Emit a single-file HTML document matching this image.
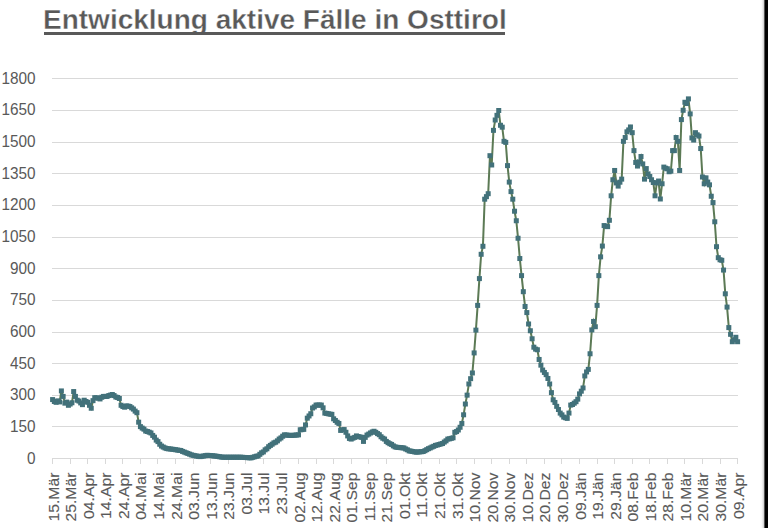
<!DOCTYPE html>
<html><head><meta charset="utf-8"><style>
html,body{margin:0;padding:0;background:#fff;}
body{width:768px;height:528px;overflow:hidden;position:relative;}
svg{position:absolute;left:0;top:0;}
.t{position:absolute;left:43px;top:3.7px;font:bold 28px "Liberation Sans",sans-serif;color:#595959;-webkit-text-stroke:0.35px #fff;white-space:nowrap;}
.ul{position:absolute;left:43.5px;top:32.3px;width:461.5px;height:2.4px;background:#595959;}
.border{position:absolute;left:760px;top:0;width:8px;height:528px;background:linear-gradient(to right,#fff 0px,#f6f6f6 2px,#d8d8d8 3.5px,#555 4.5px,#000 5.2px,#000 8px);}
</style></head><body>
<svg width="768" height="528" viewBox="0 0 768 528">
<g stroke="#d9d9d9" stroke-width="1"><line x1="52" y1="426.5" x2="738" y2="426.5"/><line x1="52" y1="395.5" x2="738" y2="395.5"/><line x1="52" y1="363.5" x2="738" y2="363.5"/><line x1="52" y1="332.5" x2="738" y2="332.5"/><line x1="52" y1="300.5" x2="738" y2="300.5"/><line x1="52" y1="268.5" x2="738" y2="268.5"/><line x1="52" y1="237.5" x2="738" y2="237.5"/><line x1="52" y1="205.5" x2="738" y2="205.5"/><line x1="52" y1="173.5" x2="738" y2="173.5"/><line x1="52" y1="142.5" x2="738" y2="142.5"/><line x1="52" y1="110.5" x2="738" y2="110.5"/><line x1="52" y1="78.5" x2="738" y2="78.5"/></g>
<g stroke="#d9d9d9" stroke-width="1"><line x1="52" y1="458.5" x2="738" y2="458.5"/><line x1="52.5" y1="458" x2="52.5" y2="464"/><line x1="70.5" y1="458" x2="70.5" y2="464"/><line x1="87.5" y1="458" x2="87.5" y2="464"/><line x1="105.5" y1="458" x2="105.5" y2="464"/><line x1="122.5" y1="458" x2="122.5" y2="464"/><line x1="140.5" y1="458" x2="140.5" y2="464"/><line x1="157.5" y1="458" x2="157.5" y2="464"/><line x1="175.5" y1="458" x2="175.5" y2="464"/><line x1="193.5" y1="458" x2="193.5" y2="464"/><line x1="210.5" y1="458" x2="210.5" y2="464"/><line x1="228.5" y1="458" x2="228.5" y2="464"/><line x1="245.5" y1="458" x2="245.5" y2="464"/><line x1="263.5" y1="458" x2="263.5" y2="464"/><line x1="280.5" y1="458" x2="280.5" y2="464"/><line x1="298.5" y1="458" x2="298.5" y2="464"/><line x1="316.5" y1="458" x2="316.5" y2="464"/><line x1="333.5" y1="458" x2="333.5" y2="464"/><line x1="351.5" y1="458" x2="351.5" y2="464"/><line x1="368.5" y1="458" x2="368.5" y2="464"/><line x1="386.5" y1="458" x2="386.5" y2="464"/><line x1="403.5" y1="458" x2="403.5" y2="464"/><line x1="421.5" y1="458" x2="421.5" y2="464"/><line x1="439.5" y1="458" x2="439.5" y2="464"/><line x1="456.5" y1="458" x2="456.5" y2="464"/><line x1="474.5" y1="458" x2="474.5" y2="464"/><line x1="491.5" y1="458" x2="491.5" y2="464"/><line x1="509.5" y1="458" x2="509.5" y2="464"/><line x1="526.5" y1="458" x2="526.5" y2="464"/><line x1="544.5" y1="458" x2="544.5" y2="464"/><line x1="561.5" y1="458" x2="561.5" y2="464"/><line x1="579.5" y1="458" x2="579.5" y2="464"/><line x1="597.5" y1="458" x2="597.5" y2="464"/><line x1="614.5" y1="458" x2="614.5" y2="464"/><line x1="632.5" y1="458" x2="632.5" y2="464"/><line x1="649.5" y1="458" x2="649.5" y2="464"/><line x1="667.5" y1="458" x2="667.5" y2="464"/><line x1="684.5" y1="458" x2="684.5" y2="464"/><line x1="702.5" y1="458" x2="702.5" y2="464"/><line x1="720.5" y1="458" x2="720.5" y2="464"/><line x1="737.5" y1="458" x2="737.5" y2="464"/></g>
<g font-family="Liberation Sans" font-size="16.5" fill="#595959" text-anchor="end"><text transform="translate(35.5,463.70) scale(0.93,1)">0</text><text transform="translate(35.5,432.02) scale(0.93,1)">150</text><text transform="translate(35.5,400.35) scale(0.93,1)">300</text><text transform="translate(35.5,368.68) scale(0.93,1)">450</text><text transform="translate(35.5,337.00) scale(0.93,1)">600</text><text transform="translate(35.5,305.32) scale(0.93,1)">750</text><text transform="translate(35.5,273.65) scale(0.93,1)">900</text><text transform="translate(35.5,241.97) scale(0.93,1)">1050</text><text transform="translate(35.5,210.30) scale(0.93,1)">1200</text><text transform="translate(35.5,178.62) scale(0.93,1)">1350</text><text transform="translate(35.5,146.95) scale(0.93,1)">1500</text><text transform="translate(35.5,115.27) scale(0.93,1)">1650</text><text transform="translate(35.5,83.60) scale(0.93,1)">1800</text></g>
<g font-family="Liberation Sans" font-size="14.3" fill="#595959" stroke="#595959" stroke-width="0.12" text-anchor="end"><text transform="translate(58.60,472.6) rotate(-90) scale(1.10,1)">15.Mär</text><text transform="translate(76.16,472.6) rotate(-90) scale(1.10,1)">25.Mär</text><text transform="translate(93.73,472.6) rotate(-90) scale(1.10,1)">04.Apr</text><text transform="translate(111.29,472.6) rotate(-90) scale(1.10,1)">14.Apr</text><text transform="translate(128.86,472.6) rotate(-90) scale(1.10,1)">24.Apr</text><text transform="translate(146.42,472.6) rotate(-90) scale(1.10,1)">04.Mai</text><text transform="translate(163.98,472.6) rotate(-90) scale(1.10,1)">14.Mai</text><text transform="translate(181.55,472.6) rotate(-90) scale(1.10,1)">24.Mai</text><text transform="translate(199.11,472.6) rotate(-90) scale(1.10,1)">03.Jun</text><text transform="translate(216.68,472.6) rotate(-90) scale(1.10,1)">13.Jun</text><text transform="translate(234.24,472.6) rotate(-90) scale(1.10,1)">23.Jun</text><text transform="translate(251.81,472.6) rotate(-90) scale(1.10,1)">03.Jul</text><text transform="translate(269.37,472.6) rotate(-90) scale(1.10,1)">13.Jul</text><text transform="translate(286.93,472.6) rotate(-90) scale(1.10,1)">23.Jul</text><text transform="translate(304.50,472.6) rotate(-90) scale(1.10,1)">02.Aug</text><text transform="translate(322.06,472.6) rotate(-90) scale(1.10,1)">12.Aug</text><text transform="translate(339.63,472.6) rotate(-90) scale(1.10,1)">22.Aug</text><text transform="translate(357.19,472.6) rotate(-90) scale(1.10,1)">01.Sep</text><text transform="translate(374.75,472.6) rotate(-90) scale(1.10,1)">11.Sep</text><text transform="translate(392.32,472.6) rotate(-90) scale(1.10,1)">21.Sep</text><text transform="translate(409.88,472.6) rotate(-90) scale(1.10,1)">01.Okt</text><text transform="translate(427.45,472.6) rotate(-90) scale(1.10,1)">11.Okt</text><text transform="translate(445.01,472.6) rotate(-90) scale(1.10,1)">21.Okt</text><text transform="translate(462.57,472.6) rotate(-90) scale(1.10,1)">31.Okt</text><text transform="translate(480.14,472.6) rotate(-90) scale(1.10,1)">10.Nov</text><text transform="translate(497.70,472.6) rotate(-90) scale(1.10,1)">20.Nov</text><text transform="translate(515.27,472.6) rotate(-90) scale(1.10,1)">30.Nov</text><text transform="translate(532.83,472.6) rotate(-90) scale(1.10,1)">10.Dez</text><text transform="translate(550.39,472.6) rotate(-90) scale(1.10,1)">20.Dez</text><text transform="translate(567.96,472.6) rotate(-90) scale(1.10,1)">30.Dez</text><text transform="translate(585.52,472.6) rotate(-90) scale(1.10,1)">09.Jän</text><text transform="translate(603.09,472.6) rotate(-90) scale(1.10,1)">19.Jän</text><text transform="translate(620.65,472.6) rotate(-90) scale(1.10,1)">29.Jän</text><text transform="translate(638.22,472.6) rotate(-90) scale(1.10,1)">08.Feb</text><text transform="translate(655.78,472.6) rotate(-90) scale(1.10,1)">18.Feb</text><text transform="translate(673.34,472.6) rotate(-90) scale(1.10,1)">28.Feb</text><text transform="translate(690.91,472.6) rotate(-90) scale(1.10,1)">10.Mär</text><text transform="translate(708.47,472.6) rotate(-90) scale(1.10,1)">20.Mär</text><text transform="translate(726.04,472.6) rotate(-90) scale(1.10,1)">30.Mär</text><text transform="translate(743.60,472.6) rotate(-90) scale(1.10,1)">09.Apr</text></g>
<path d="M52.60,399.58 L54.36,401.49 L56.11,402.33 L57.87,400.85 L59.63,401.91 L61.38,390.93 L63.14,396.42 L64.89,403.17 L66.65,402.12 L68.41,405.29 L70.16,404.02 L71.92,402.75 L73.68,391.56 L75.43,396.42 L77.19,400.22 L78.95,401.06 L80.70,402.91 L82.46,404.65 L84.22,400.22 L85.97,401.49 L87.73,402.33 L89.48,405.29 L91.24,408.24 L93.00,400.64 L94.75,397.68 L96.51,397.90 L98.27,398.11 L100.02,398.95 L101.78,397.26 L103.54,396.42 L105.29,396.42 L107.05,396.42 L108.81,395.57 L110.56,395.11 L112.32,394.52 L114.07,395.57 L115.83,397.05 L117.59,397.47 L119.34,398.46 L121.10,405.29 L122.86,406.52 L124.61,407.19 L126.37,405.92 L128.13,406.10 L129.88,406.55 L131.64,407.82 L133.39,409.09 L135.15,411.10 L136.91,412.68 L138.66,422.18 L140.42,426.61 L142.18,428.08 L143.93,429.15 L145.69,431.05 L147.45,431.50 L149.20,432.17 L150.96,432.95 L152.72,435.42 L154.47,437.17 L156.23,440.10 L157.98,441.61 L159.74,444.26 L161.50,446.04 L163.25,447.06 L165.01,447.95 L166.77,448.58 L168.52,448.81 L170.28,448.98 L172.04,449.21 L173.79,449.43 L175.55,449.72 L177.31,450.02 L179.06,450.32 L180.82,450.48 L182.57,451.43 L184.33,452.09 L186.09,452.80 L187.84,453.44 L189.60,454.16 L191.36,454.87 L193.11,455.33 L194.87,455.73 L196.63,456.03 L198.38,456.33 L200.14,456.60 L201.89,456.28 L203.65,455.98 L205.41,455.69 L207.16,455.33 L208.92,455.45 L210.68,455.60 L212.43,455.75 L214.19,455.97 L215.95,456.13 L217.70,456.42 L219.46,456.72 L221.22,457.02 L222.97,457.23 L224.73,457.23 L226.48,457.23 L228.24,457.23 L230.00,457.23 L231.75,457.23 L233.51,457.23 L235.27,457.23 L237.02,457.23 L238.78,457.23 L240.54,457.23 L242.29,457.31 L244.05,457.43 L245.81,457.54 L247.56,457.65 L249.32,457.76 L251.07,457.87 L252.83,457.31 L254.59,456.78 L256.34,456.24 L258.10,455.97 L259.86,454.31 L261.61,452.80 L263.37,451.92 L265.13,449.84 L266.88,448.80 L268.64,446.72 L270.39,445.41 L272.15,444.19 L273.91,442.87 L275.66,442.18 L277.42,440.84 L279.18,439.07 L280.93,437.92 L282.69,436.22 L284.45,434.85 L286.20,435.04 L287.96,435.20 L289.72,435.36 L291.47,435.48 L293.23,435.29 L294.98,435.15 L296.74,435.00 L298.50,434.85 L300.25,429.78 L302.01,429.63 L303.77,429.36 L305.52,424.92 L307.28,418.17 L309.04,415.97 L310.79,413.73 L312.55,408.03 L314.31,406.90 L316.06,405.07 L317.82,405.07 L319.57,405.07 L321.33,405.07 L323.09,407.82 L324.84,413.10 L326.60,413.42 L328.36,413.78 L330.11,414.14 L331.87,414.37 L333.63,418.80 L335.38,420.47 L337.14,422.26 L338.89,423.45 L340.65,430.41 L342.41,429.78 L344.16,429.57 L345.92,432.27 L347.68,435.91 L349.43,438.44 L351.19,439.07 L352.95,438.13 L354.70,437.38 L356.46,435.91 L358.22,436.54 L359.97,436.92 L361.73,437.38 L363.48,441.40 L365.24,437.38 L367.00,435.06 L368.75,434.08 L370.51,432.95 L372.27,431.95 L374.02,431.26 L375.78,432.32 L377.54,433.58 L379.29,434.70 L381.05,436.75 L382.81,438.21 L384.56,439.07 L386.32,441.40 L388.07,442.66 L389.83,443.72 L391.59,444.44 L393.34,445.87 L395.10,446.89 L396.86,447.31 L398.61,447.45 L400.37,447.62 L402.13,447.80 L403.88,447.94 L405.64,448.95 L407.39,449.78 L409.15,450.90 L410.91,451.13 L412.66,451.49 L414.42,451.84 L416.18,452.17 L417.93,452.00 L419.69,451.85 L421.45,451.70 L423.20,451.53 L424.96,450.69 L426.72,449.68 L428.47,448.68 L430.23,447.94 L431.98,447.04 L433.74,446.32 L435.50,445.41 L437.25,445.03 L439.01,444.49 L440.77,443.96 L442.52,443.51 L444.28,442.07 L446.04,440.82 L447.79,439.07 L449.55,438.81 L451.31,438.36 L453.06,437.81 L454.82,432.32 L456.57,431.56 L458.33,429.99 L460.09,427.26 L461.84,423.45 L463.60,414.79 L465.36,404.02 L467.11,395.15 L468.87,383.96 L470.63,378.68 L472.38,372.98 L474.14,352.92 L475.89,330.11 L477.65,305.40 L479.41,278.59 L481.16,254.30 L482.92,246.28 L484.68,199.19 L486.43,196.65 L488.19,193.70 L489.95,155.69 L491.70,164.98 L493.46,130.35 L495.22,120.00 L496.97,115.35 L498.73,110.50 L500.48,125.28 L502.24,127.18 L504.00,141.33 L505.75,142.38 L507.51,165.61 L509.27,182.08 L511.02,191.59 L512.78,199.19 L514.54,211.22 L516.29,220.73 L518.05,238.25 L519.81,258.53 L521.56,275.63 L523.32,291.68 L525.07,306.46 L526.83,312.58 L528.59,323.99 L530.34,330.74 L532.10,338.77 L533.86,347.22 L535.61,349.12 L537.37,349.75 L539.13,359.46 L540.88,365.16 L542.64,370.02 L544.39,372.45 L546.15,374.67 L547.91,378.47 L549.66,383.96 L551.42,392.62 L553.18,399.80 L554.93,402.44 L556.69,406.34 L558.45,409.51 L560.20,413.10 L561.96,414.86 L563.72,417.11 L565.47,417.73 L567.23,418.38 L568.98,413.10 L570.74,405.07 L572.50,404.50 L574.25,403.17 L576.01,401.70 L577.77,399.16 L579.52,393.88 L581.28,391.20 L583.04,387.97 L584.79,375.93 L586.55,371.92 L588.31,369.39 L590.06,353.76 L591.82,329.90 L593.57,321.45 L595.33,326.73 L597.09,305.40 L598.84,275.63 L600.60,256.84 L602.36,246.07 L604.11,225.58 L605.87,226.25 L607.63,226.64 L609.38,220.30 L611.14,195.81 L612.89,179.76 L614.65,170.47 L616.41,182.93 L618.16,186.09 L619.92,182.20 L621.68,179.13 L623.43,141.33 L625.19,137.53 L626.95,131.83 L628.70,129.92 L630.46,126.97 L632.22,132.67 L633.97,150.62 L635.73,162.44 L637.48,166.03 L639.24,161.81 L641.00,156.53 L642.75,163.92 L644.51,179.13 L646.27,168.57 L648.02,173.85 L649.78,176.53 L651.54,179.76 L653.29,182.51 L655.05,195.81 L656.81,182.93 L658.56,181.03 L660.32,198.98 L662.07,183.76 L663.83,167.09 L665.59,168.21 L667.34,168.78 L669.10,171.74 L670.86,171.10 L672.61,150.62 L674.37,150.62 L676.13,137.53 L677.88,141.33 L679.64,170.47 L681.39,119.58 L683.15,110.29 L684.91,102.26 L686.66,103.53 L688.42,98.88 L690.18,113.88 L691.93,137.95 L693.69,140.06 L695.45,132.67 L697.20,134.80 L698.96,136.05 L700.72,148.53 L702.47,177.01 L704.23,183.77 L705.98,177.86 L707.74,182.09 L709.50,184.83 L711.25,196.23 L713.01,202.57 L714.77,221.78 L716.52,246.70 L718.28,257.68 L720.04,259.79 L721.79,260.29 L723.55,270.06 L725.31,293.79 L727.06,307.09 L728.82,327.58 L730.57,334.33 L732.33,341.72 L734.09,339.72 L735.84,337.29 L737.60,341.72" fill="none" stroke="#5c7a55" stroke-width="2"/>
<g fill="#42717a"><rect x="50.10" y="397.08" width="5" height="5"/><rect x="51.86" y="398.99" width="5" height="5"/><rect x="53.61" y="399.83" width="5" height="5"/><rect x="55.37" y="398.35" width="5" height="5"/><rect x="57.13" y="399.41" width="5" height="5"/><rect x="58.88" y="388.43" width="5" height="5"/><rect x="60.64" y="393.92" width="5" height="5"/><rect x="62.39" y="400.67" width="5" height="5"/><rect x="64.15" y="399.62" width="5" height="5"/><rect x="65.91" y="402.79" width="5" height="5"/><rect x="67.66" y="401.52" width="5" height="5"/><rect x="69.42" y="400.25" width="5" height="5"/><rect x="71.18" y="389.06" width="5" height="5"/><rect x="72.93" y="393.92" width="5" height="5"/><rect x="74.69" y="397.72" width="5" height="5"/><rect x="76.45" y="398.56" width="5" height="5"/><rect x="78.20" y="400.41" width="5" height="5"/><rect x="79.96" y="402.15" width="5" height="5"/><rect x="81.72" y="397.72" width="5" height="5"/><rect x="83.47" y="398.99" width="5" height="5"/><rect x="85.23" y="399.83" width="5" height="5"/><rect x="86.98" y="402.79" width="5" height="5"/><rect x="88.74" y="405.74" width="5" height="5"/><rect x="90.50" y="398.14" width="5" height="5"/><rect x="92.25" y="395.18" width="5" height="5"/><rect x="94.01" y="395.40" width="5" height="5"/><rect x="95.77" y="395.61" width="5" height="5"/><rect x="97.52" y="396.45" width="5" height="5"/><rect x="99.28" y="394.76" width="5" height="5"/><rect x="101.04" y="393.92" width="5" height="5"/><rect x="102.79" y="393.92" width="5" height="5"/><rect x="104.55" y="393.92" width="5" height="5"/><rect x="106.31" y="393.07" width="5" height="5"/><rect x="108.06" y="392.61" width="5" height="5"/><rect x="109.82" y="392.02" width="5" height="5"/><rect x="111.57" y="393.07" width="5" height="5"/><rect x="113.33" y="394.55" width="5" height="5"/><rect x="115.09" y="394.97" width="5" height="5"/><rect x="116.84" y="395.96" width="5" height="5"/><rect x="118.60" y="402.79" width="5" height="5"/><rect x="120.36" y="404.02" width="5" height="5"/><rect x="122.11" y="404.69" width="5" height="5"/><rect x="123.87" y="403.42" width="5" height="5"/><rect x="125.63" y="403.60" width="5" height="5"/><rect x="127.38" y="404.05" width="5" height="5"/><rect x="129.14" y="405.32" width="5" height="5"/><rect x="130.89" y="406.59" width="5" height="5"/><rect x="132.65" y="408.60" width="5" height="5"/><rect x="134.41" y="410.18" width="5" height="5"/><rect x="136.16" y="419.68" width="5" height="5"/><rect x="137.92" y="424.11" width="5" height="5"/><rect x="139.68" y="425.58" width="5" height="5"/><rect x="141.43" y="426.65" width="5" height="5"/><rect x="143.19" y="428.55" width="5" height="5"/><rect x="144.95" y="429.00" width="5" height="5"/><rect x="146.70" y="429.67" width="5" height="5"/><rect x="148.46" y="430.45" width="5" height="5"/><rect x="150.22" y="432.92" width="5" height="5"/><rect x="151.97" y="434.67" width="5" height="5"/><rect x="153.73" y="437.60" width="5" height="5"/><rect x="155.48" y="439.11" width="5" height="5"/><rect x="157.24" y="441.76" width="5" height="5"/><rect x="159.00" y="443.54" width="5" height="5"/><rect x="160.75" y="444.56" width="5" height="5"/><rect x="162.51" y="445.45" width="5" height="5"/><rect x="164.27" y="446.08" width="5" height="5"/><rect x="166.02" y="446.31" width="5" height="5"/><rect x="167.78" y="446.48" width="5" height="5"/><rect x="169.54" y="446.71" width="5" height="5"/><rect x="171.29" y="446.93" width="5" height="5"/><rect x="173.05" y="447.22" width="5" height="5"/><rect x="174.81" y="447.52" width="5" height="5"/><rect x="176.56" y="447.82" width="5" height="5"/><rect x="178.32" y="447.98" width="5" height="5"/><rect x="180.07" y="448.93" width="5" height="5"/><rect x="181.83" y="449.59" width="5" height="5"/><rect x="183.59" y="450.30" width="5" height="5"/><rect x="185.34" y="450.94" width="5" height="5"/><rect x="187.10" y="451.66" width="5" height="5"/><rect x="188.86" y="452.37" width="5" height="5"/><rect x="190.61" y="452.83" width="5" height="5"/><rect x="192.37" y="453.23" width="5" height="5"/><rect x="194.13" y="453.53" width="5" height="5"/><rect x="195.88" y="453.83" width="5" height="5"/><rect x="197.64" y="454.10" width="5" height="5"/><rect x="199.39" y="453.78" width="5" height="5"/><rect x="201.15" y="453.48" width="5" height="5"/><rect x="202.91" y="453.19" width="5" height="5"/><rect x="204.66" y="452.83" width="5" height="5"/><rect x="206.42" y="452.95" width="5" height="5"/><rect x="208.18" y="453.10" width="5" height="5"/><rect x="209.93" y="453.25" width="5" height="5"/><rect x="211.69" y="453.47" width="5" height="5"/><rect x="213.45" y="453.63" width="5" height="5"/><rect x="215.20" y="453.92" width="5" height="5"/><rect x="216.96" y="454.22" width="5" height="5"/><rect x="218.72" y="454.52" width="5" height="5"/><rect x="220.47" y="454.73" width="5" height="5"/><rect x="222.23" y="454.73" width="5" height="5"/><rect x="223.98" y="454.73" width="5" height="5"/><rect x="225.74" y="454.73" width="5" height="5"/><rect x="227.50" y="454.73" width="5" height="5"/><rect x="229.25" y="454.73" width="5" height="5"/><rect x="231.01" y="454.73" width="5" height="5"/><rect x="232.77" y="454.73" width="5" height="5"/><rect x="234.52" y="454.73" width="5" height="5"/><rect x="236.28" y="454.73" width="5" height="5"/><rect x="238.04" y="454.73" width="5" height="5"/><rect x="239.79" y="454.81" width="5" height="5"/><rect x="241.55" y="454.93" width="5" height="5"/><rect x="243.31" y="455.04" width="5" height="5"/><rect x="245.06" y="455.15" width="5" height="5"/><rect x="246.82" y="455.26" width="5" height="5"/><rect x="248.57" y="455.37" width="5" height="5"/><rect x="250.33" y="454.81" width="5" height="5"/><rect x="252.09" y="454.28" width="5" height="5"/><rect x="253.84" y="453.74" width="5" height="5"/><rect x="255.60" y="453.47" width="5" height="5"/><rect x="257.36" y="451.81" width="5" height="5"/><rect x="259.11" y="450.30" width="5" height="5"/><rect x="260.87" y="449.42" width="5" height="5"/><rect x="262.63" y="447.34" width="5" height="5"/><rect x="264.38" y="446.30" width="5" height="5"/><rect x="266.14" y="444.22" width="5" height="5"/><rect x="267.89" y="442.91" width="5" height="5"/><rect x="269.65" y="441.69" width="5" height="5"/><rect x="271.41" y="440.37" width="5" height="5"/><rect x="273.16" y="439.68" width="5" height="5"/><rect x="274.92" y="438.34" width="5" height="5"/><rect x="276.68" y="436.57" width="5" height="5"/><rect x="278.43" y="435.42" width="5" height="5"/><rect x="280.19" y="433.72" width="5" height="5"/><rect x="281.95" y="432.35" width="5" height="5"/><rect x="283.70" y="432.54" width="5" height="5"/><rect x="285.46" y="432.70" width="5" height="5"/><rect x="287.22" y="432.86" width="5" height="5"/><rect x="288.97" y="432.98" width="5" height="5"/><rect x="290.73" y="432.79" width="5" height="5"/><rect x="292.48" y="432.65" width="5" height="5"/><rect x="294.24" y="432.50" width="5" height="5"/><rect x="296.00" y="432.35" width="5" height="5"/><rect x="297.75" y="427.28" width="5" height="5"/><rect x="299.51" y="427.13" width="5" height="5"/><rect x="301.27" y="426.86" width="5" height="5"/><rect x="303.02" y="422.42" width="5" height="5"/><rect x="304.78" y="415.67" width="5" height="5"/><rect x="306.54" y="413.47" width="5" height="5"/><rect x="308.29" y="411.23" width="5" height="5"/><rect x="310.05" y="405.53" width="5" height="5"/><rect x="311.81" y="404.40" width="5" height="5"/><rect x="313.56" y="402.57" width="5" height="5"/><rect x="315.32" y="402.57" width="5" height="5"/><rect x="317.07" y="402.57" width="5" height="5"/><rect x="318.83" y="402.57" width="5" height="5"/><rect x="320.59" y="405.32" width="5" height="5"/><rect x="322.34" y="410.60" width="5" height="5"/><rect x="324.10" y="410.92" width="5" height="5"/><rect x="325.86" y="411.28" width="5" height="5"/><rect x="327.61" y="411.64" width="5" height="5"/><rect x="329.37" y="411.87" width="5" height="5"/><rect x="331.13" y="416.30" width="5" height="5"/><rect x="332.88" y="417.97" width="5" height="5"/><rect x="334.64" y="419.76" width="5" height="5"/><rect x="336.39" y="420.95" width="5" height="5"/><rect x="338.15" y="427.91" width="5" height="5"/><rect x="339.91" y="427.28" width="5" height="5"/><rect x="341.66" y="427.07" width="5" height="5"/><rect x="343.42" y="429.77" width="5" height="5"/><rect x="345.18" y="433.41" width="5" height="5"/><rect x="346.93" y="435.94" width="5" height="5"/><rect x="348.69" y="436.57" width="5" height="5"/><rect x="350.45" y="435.63" width="5" height="5"/><rect x="352.20" y="434.88" width="5" height="5"/><rect x="353.96" y="433.41" width="5" height="5"/><rect x="355.72" y="434.04" width="5" height="5"/><rect x="357.47" y="434.42" width="5" height="5"/><rect x="359.23" y="434.88" width="5" height="5"/><rect x="360.98" y="438.90" width="5" height="5"/><rect x="362.74" y="434.88" width="5" height="5"/><rect x="364.50" y="432.56" width="5" height="5"/><rect x="366.25" y="431.58" width="5" height="5"/><rect x="368.01" y="430.45" width="5" height="5"/><rect x="369.77" y="429.45" width="5" height="5"/><rect x="371.52" y="428.76" width="5" height="5"/><rect x="373.28" y="429.82" width="5" height="5"/><rect x="375.04" y="431.08" width="5" height="5"/><rect x="376.79" y="432.20" width="5" height="5"/><rect x="378.55" y="434.25" width="5" height="5"/><rect x="380.31" y="435.71" width="5" height="5"/><rect x="382.06" y="436.57" width="5" height="5"/><rect x="383.82" y="438.90" width="5" height="5"/><rect x="385.57" y="440.16" width="5" height="5"/><rect x="387.33" y="441.22" width="5" height="5"/><rect x="389.09" y="441.94" width="5" height="5"/><rect x="390.84" y="443.37" width="5" height="5"/><rect x="392.60" y="444.39" width="5" height="5"/><rect x="394.36" y="444.81" width="5" height="5"/><rect x="396.11" y="444.95" width="5" height="5"/><rect x="397.87" y="445.12" width="5" height="5"/><rect x="399.63" y="445.30" width="5" height="5"/><rect x="401.38" y="445.44" width="5" height="5"/><rect x="403.14" y="446.45" width="5" height="5"/><rect x="404.89" y="447.28" width="5" height="5"/><rect x="406.65" y="448.40" width="5" height="5"/><rect x="408.41" y="448.63" width="5" height="5"/><rect x="410.16" y="448.99" width="5" height="5"/><rect x="411.92" y="449.34" width="5" height="5"/><rect x="413.68" y="449.67" width="5" height="5"/><rect x="415.43" y="449.50" width="5" height="5"/><rect x="417.19" y="449.35" width="5" height="5"/><rect x="418.95" y="449.20" width="5" height="5"/><rect x="420.70" y="449.03" width="5" height="5"/><rect x="422.46" y="448.19" width="5" height="5"/><rect x="424.22" y="447.18" width="5" height="5"/><rect x="425.97" y="446.18" width="5" height="5"/><rect x="427.73" y="445.44" width="5" height="5"/><rect x="429.48" y="444.54" width="5" height="5"/><rect x="431.24" y="443.82" width="5" height="5"/><rect x="433.00" y="442.91" width="5" height="5"/><rect x="434.75" y="442.53" width="5" height="5"/><rect x="436.51" y="441.99" width="5" height="5"/><rect x="438.27" y="441.46" width="5" height="5"/><rect x="440.02" y="441.01" width="5" height="5"/><rect x="441.78" y="439.57" width="5" height="5"/><rect x="443.54" y="438.32" width="5" height="5"/><rect x="445.29" y="436.57" width="5" height="5"/><rect x="447.05" y="436.31" width="5" height="5"/><rect x="448.81" y="435.86" width="5" height="5"/><rect x="450.56" y="435.31" width="5" height="5"/><rect x="452.32" y="429.82" width="5" height="5"/><rect x="454.07" y="429.06" width="5" height="5"/><rect x="455.83" y="427.49" width="5" height="5"/><rect x="457.59" y="424.76" width="5" height="5"/><rect x="459.34" y="420.95" width="5" height="5"/><rect x="461.10" y="412.29" width="5" height="5"/><rect x="462.86" y="401.52" width="5" height="5"/><rect x="464.61" y="392.65" width="5" height="5"/><rect x="466.37" y="381.46" width="5" height="5"/><rect x="468.13" y="376.18" width="5" height="5"/><rect x="469.88" y="370.48" width="5" height="5"/><rect x="471.64" y="350.42" width="5" height="5"/><rect x="473.39" y="327.61" width="5" height="5"/><rect x="475.15" y="302.90" width="5" height="5"/><rect x="476.91" y="276.09" width="5" height="5"/><rect x="478.66" y="251.80" width="5" height="5"/><rect x="480.42" y="243.78" width="5" height="5"/><rect x="482.18" y="196.69" width="5" height="5"/><rect x="483.93" y="194.15" width="5" height="5"/><rect x="485.69" y="191.20" width="5" height="5"/><rect x="487.45" y="153.19" width="5" height="5"/><rect x="489.20" y="162.48" width="5" height="5"/><rect x="490.96" y="127.85" width="5" height="5"/><rect x="492.72" y="117.50" width="5" height="5"/><rect x="494.47" y="112.85" width="5" height="5"/><rect x="496.23" y="108.00" width="5" height="5"/><rect x="497.98" y="122.78" width="5" height="5"/><rect x="499.74" y="124.68" width="5" height="5"/><rect x="501.50" y="138.83" width="5" height="5"/><rect x="503.25" y="139.88" width="5" height="5"/><rect x="505.01" y="163.11" width="5" height="5"/><rect x="506.77" y="179.58" width="5" height="5"/><rect x="508.52" y="189.09" width="5" height="5"/><rect x="510.28" y="196.69" width="5" height="5"/><rect x="512.04" y="208.72" width="5" height="5"/><rect x="513.79" y="218.23" width="5" height="5"/><rect x="515.55" y="235.75" width="5" height="5"/><rect x="517.31" y="256.03" width="5" height="5"/><rect x="519.06" y="273.13" width="5" height="5"/><rect x="520.82" y="289.18" width="5" height="5"/><rect x="522.57" y="303.96" width="5" height="5"/><rect x="524.33" y="310.08" width="5" height="5"/><rect x="526.09" y="321.49" width="5" height="5"/><rect x="527.84" y="328.24" width="5" height="5"/><rect x="529.60" y="336.27" width="5" height="5"/><rect x="531.36" y="344.72" width="5" height="5"/><rect x="533.11" y="346.62" width="5" height="5"/><rect x="534.87" y="347.25" width="5" height="5"/><rect x="536.63" y="356.96" width="5" height="5"/><rect x="538.38" y="362.66" width="5" height="5"/><rect x="540.14" y="367.52" width="5" height="5"/><rect x="541.89" y="369.95" width="5" height="5"/><rect x="543.65" y="372.17" width="5" height="5"/><rect x="545.41" y="375.97" width="5" height="5"/><rect x="547.16" y="381.46" width="5" height="5"/><rect x="548.92" y="390.12" width="5" height="5"/><rect x="550.68" y="397.30" width="5" height="5"/><rect x="552.43" y="399.94" width="5" height="5"/><rect x="554.19" y="403.84" width="5" height="5"/><rect x="555.95" y="407.01" width="5" height="5"/><rect x="557.70" y="410.60" width="5" height="5"/><rect x="559.46" y="412.36" width="5" height="5"/><rect x="561.22" y="414.61" width="5" height="5"/><rect x="562.97" y="415.23" width="5" height="5"/><rect x="564.73" y="415.88" width="5" height="5"/><rect x="566.48" y="410.60" width="5" height="5"/><rect x="568.24" y="402.57" width="5" height="5"/><rect x="570.00" y="402.00" width="5" height="5"/><rect x="571.75" y="400.67" width="5" height="5"/><rect x="573.51" y="399.20" width="5" height="5"/><rect x="575.27" y="396.66" width="5" height="5"/><rect x="577.02" y="391.38" width="5" height="5"/><rect x="578.78" y="388.70" width="5" height="5"/><rect x="580.54" y="385.47" width="5" height="5"/><rect x="582.29" y="373.43" width="5" height="5"/><rect x="584.05" y="369.42" width="5" height="5"/><rect x="585.81" y="366.89" width="5" height="5"/><rect x="587.56" y="351.26" width="5" height="5"/><rect x="589.32" y="327.40" width="5" height="5"/><rect x="591.07" y="318.95" width="5" height="5"/><rect x="592.83" y="324.23" width="5" height="5"/><rect x="594.59" y="302.90" width="5" height="5"/><rect x="596.34" y="273.13" width="5" height="5"/><rect x="598.10" y="254.34" width="5" height="5"/><rect x="599.86" y="243.57" width="5" height="5"/><rect x="601.61" y="223.08" width="5" height="5"/><rect x="603.37" y="223.75" width="5" height="5"/><rect x="605.13" y="224.14" width="5" height="5"/><rect x="606.88" y="217.80" width="5" height="5"/><rect x="608.64" y="193.31" width="5" height="5"/><rect x="610.39" y="177.26" width="5" height="5"/><rect x="612.15" y="167.97" width="5" height="5"/><rect x="613.91" y="180.43" width="5" height="5"/><rect x="615.66" y="183.59" width="5" height="5"/><rect x="617.42" y="179.70" width="5" height="5"/><rect x="619.18" y="176.63" width="5" height="5"/><rect x="620.93" y="138.83" width="5" height="5"/><rect x="622.69" y="135.03" width="5" height="5"/><rect x="624.45" y="129.33" width="5" height="5"/><rect x="626.20" y="127.42" width="5" height="5"/><rect x="627.96" y="124.47" width="5" height="5"/><rect x="629.72" y="130.17" width="5" height="5"/><rect x="631.47" y="148.12" width="5" height="5"/><rect x="633.23" y="159.94" width="5" height="5"/><rect x="634.98" y="163.53" width="5" height="5"/><rect x="636.74" y="159.31" width="5" height="5"/><rect x="638.50" y="154.03" width="5" height="5"/><rect x="640.25" y="161.42" width="5" height="5"/><rect x="642.01" y="176.63" width="5" height="5"/><rect x="643.77" y="166.07" width="5" height="5"/><rect x="645.52" y="171.35" width="5" height="5"/><rect x="647.28" y="174.03" width="5" height="5"/><rect x="649.04" y="177.26" width="5" height="5"/><rect x="650.79" y="180.01" width="5" height="5"/><rect x="652.55" y="193.31" width="5" height="5"/><rect x="654.31" y="180.43" width="5" height="5"/><rect x="656.06" y="178.53" width="5" height="5"/><rect x="657.82" y="196.48" width="5" height="5"/><rect x="659.57" y="181.26" width="5" height="5"/><rect x="661.33" y="164.59" width="5" height="5"/><rect x="663.09" y="165.71" width="5" height="5"/><rect x="664.84" y="166.28" width="5" height="5"/><rect x="666.60" y="169.24" width="5" height="5"/><rect x="668.36" y="168.60" width="5" height="5"/><rect x="670.11" y="148.12" width="5" height="5"/><rect x="671.87" y="148.12" width="5" height="5"/><rect x="673.63" y="135.03" width="5" height="5"/><rect x="675.38" y="138.83" width="5" height="5"/><rect x="677.14" y="167.97" width="5" height="5"/><rect x="678.89" y="117.08" width="5" height="5"/><rect x="680.65" y="107.79" width="5" height="5"/><rect x="682.41" y="99.76" width="5" height="5"/><rect x="684.16" y="101.03" width="5" height="5"/><rect x="685.92" y="96.38" width="5" height="5"/><rect x="687.68" y="111.38" width="5" height="5"/><rect x="689.43" y="135.45" width="5" height="5"/><rect x="691.19" y="137.56" width="5" height="5"/><rect x="692.95" y="130.17" width="5" height="5"/><rect x="694.70" y="132.30" width="5" height="5"/><rect x="696.46" y="133.55" width="5" height="5"/><rect x="698.22" y="146.03" width="5" height="5"/><rect x="699.97" y="174.51" width="5" height="5"/><rect x="701.73" y="181.27" width="5" height="5"/><rect x="703.48" y="175.36" width="5" height="5"/><rect x="705.24" y="179.59" width="5" height="5"/><rect x="707.00" y="182.33" width="5" height="5"/><rect x="708.75" y="193.73" width="5" height="5"/><rect x="710.51" y="200.07" width="5" height="5"/><rect x="712.27" y="219.28" width="5" height="5"/><rect x="714.02" y="244.20" width="5" height="5"/><rect x="715.78" y="255.18" width="5" height="5"/><rect x="717.54" y="257.29" width="5" height="5"/><rect x="719.29" y="257.79" width="5" height="5"/><rect x="721.05" y="267.56" width="5" height="5"/><rect x="722.81" y="291.29" width="5" height="5"/><rect x="724.56" y="304.59" width="5" height="5"/><rect x="726.32" y="325.08" width="5" height="5"/><rect x="728.07" y="331.83" width="5" height="5"/><rect x="729.83" y="339.22" width="5" height="5"/><rect x="731.59" y="337.22" width="5" height="5"/><rect x="733.34" y="334.79" width="5" height="5"/><rect x="735.10" y="339.22" width="5" height="5"/></g>
</svg>
<div class="t">Entwicklung aktive Fälle in Osttirol</div>
<div class="ul"></div>
<div class="border"></div>
</body></html>
